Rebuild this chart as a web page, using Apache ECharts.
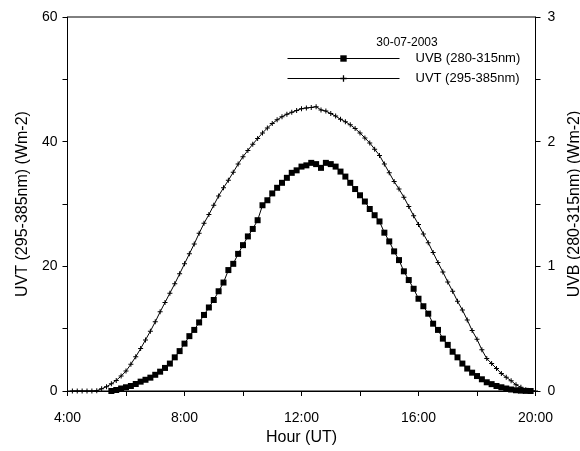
<!DOCTYPE html>
<html>
<head>
<meta charset="utf-8">
<script src="https://cdn.jsdelivr.net/npm/echarts@6/dist/echarts.min.js"></script>
<style>html,body{margin:0;padding:0;background:#fff;}#c{width:580px;height:451px;}</style>
</head>
<body>
<div id="c"></div>
<script>
var hours = [
 '4:00','4:10','4:20','4:30','4:40','4:50',
 '5:00','5:10','5:20','5:30','5:40','5:50',
 '6:00','6:10','6:20','6:30','6:40','6:50',
 '7:00','7:10','7:20','7:30','7:40','7:50',
 '8:00','8:10','8:20','8:30','8:40','8:50',
 '9:00','9:10','9:20','9:30','9:40','9:50',
 '10:00','10:10','10:20','10:30','10:40','10:50',
 '11:00','11:10','11:20','11:30','11:40','11:50',
 '12:00','12:10','12:20','12:30','12:40','12:50',
 '13:00','13:10','13:20','13:30','13:40','13:50',
 '14:00','14:10','14:20','14:30','14:40','14:50',
 '15:00','15:10','15:20','15:30','15:40','15:50',
 '16:00','16:10','16:20','16:30','16:40','16:50',
 '17:00','17:10','17:20','17:30','17:40','17:50',
 '18:00','18:10','18:20','18:30','18:40','18:50',
 '19:00','19:10','19:20','19:30','19:40','19:50',
 '20:00'
];
var uvt = [
 null,0,0,0,0,0,
 0.05,0.35,0.7,1.15,1.7,2.4,
 3.2,4.3,5.5,6.8,8.2,9.6,
 11.1,12.7,14.2,15.7,17.2,18.8,
 20.4,22.0,23.6,25.3,26.9,28.3,
 29.8,31.3,32.6,33.8,35.1,36.4,
 37.6,38.6,39.6,40.5,41.4,42.2,
 42.9,43.5,44.0,44.4,44.7,45.0,
 45.3,45.4,45.5,45.6,45.1,44.9,
 44.5,44.1,43.6,43.2,42.7,42.1,
 41.4,40.6,39.8,38.8,37.8,36.4,
 35.0,33.6,32.4,31.1,29.6,28.1,
 26.7,25.2,23.8,22.2,20.6,19.1,
 17.5,16.0,14.4,13.0,11.4,9.7,
 8.3,6.6,5.2,4.4,3.6,2.8,
 2.2,1.65,1.0,0.6,0.2,0,
 0
];
var uvb = [
 null,null,null,null,null,null,
 null,null,null,0,0.008,0.02,
 0.03,0.04,0.056,0.075,0.09,0.107,
 0.13,0.155,0.185,0.22,0.27,0.32,
 0.38,0.44,0.49,0.55,0.61,0.67,
 0.73,0.80,0.87,0.97,1.02,1.10,
 1.17,1.24,1.30,1.37,1.49,1.53,
 1.585,1.63,1.67,1.71,1.75,1.77,
 1.80,1.81,1.83,1.82,1.79,1.83,
 1.82,1.80,1.76,1.72,1.67,1.62,
 1.57,1.52,1.46,1.41,1.36,1.27,
 1.20,1.12,1.05,0.96,0.89,0.82,
 0.74,0.68,0.62,0.54,0.49,0.42,
 0.37,0.315,0.27,0.22,0.18,0.147,
 0.12,0.094,0.07,0.055,0.04,0.03,
 0.02,0.012,0.006,0.003,0.001,0,
 null
];
var uvtTicks = [0, 20, 40, 60];
var uvbTicks = [0, 1, 2, 3];

var FONT = '"Liberation Sans", Arial, sans-serif';
var plus = 'path://M2,0H3V2H5V3H3V5H2V3H0V2H2Z';
var chart = echarts.init(document.getElementById('c'), null, {renderer: 'canvas'});
var axisCommon = {
  axisLine: {show: true, lineStyle: {color: '#000', width: 1}},
  axisTick: {show: true, inside: false, length: 5, lineStyle: {color: '#000'}},
  minorTick: {show: true, splitNumber: 2, length: 5, lineStyle: {color: '#000'}},
  splitLine: {show: false},
  axisLabel: {color: '#000', fontSize: 14, fontFamily: FONT},
  nameLocation: 'middle',
  nameTextStyle: {color: '#000', fontSize: 16, fontFamily: FONT}
};
chart.setOption({
  animation: false,
  backgroundColor: '#fff',
  textStyle: {fontFamily: FONT},
  title: {
    text: '30-07-2003', left: 402, top: 32, textAlign: 'center',
    textStyle: {color: '#000', fontSize: 12, fontWeight: 'normal', fontFamily: FONT}
  },
  legend: {
    orient: 'vertical', left: 282, top: 47, itemWidth: 112, itemHeight: 8, itemGap: 7,
    data: ['UVB (280-315nm)', 'UVT (295-385nm)'],
    lineStyle: {width: 1},
    textStyle: {color: '#000', fontSize: 13, fontFamily: FONT, padding: [0, 0, 0, 11]}
  },
  grid: {left: 67.5, right: 44.5, top: 17, bottom: 60, show: true, borderColor: '#000', borderWidth: 1, outerBoundsMode: 'none', containLabel: false},
  xAxis: {
    type: 'category', data: hours, boundaryGap: false,
    name: 'Hour (UT)', nameGap: 37, nameLocation: 'middle',
    nameTextStyle: {color: '#000', fontSize: 16, fontFamily: FONT},
    axisLine: {show: true, lineStyle: {color: '#000', width: 1}},
    axisTick: {show: true, inside: false, length: 5, interval: 11, lineStyle: {color: '#000'}},
    axisLabel: {color: '#000', fontSize: 14, fontFamily: FONT, margin: 20, interval: 23},
    splitLine: {show: false}
  },
  yAxis: [
    Object.assign({}, axisCommon, {
      type: 'value', position: 'left', min: uvtTicks[0], max: uvtTicks[uvtTicks.length - 1], interval: 20,
      name: 'UVT (295-385nm) (Wm-2)', nameGap: 37,
      axisLabel: Object.assign({}, axisCommon.axisLabel, {margin: 10})
    }),
    Object.assign({}, axisCommon, {
      type: 'value', position: 'right', min: uvbTicks[0], max: uvbTicks[uvbTicks.length - 1], interval: 1,
      name: 'UVB (280-315nm) (Wm-2)', nameGap: 30, nameRotate: 90,
      axisLabel: Object.assign({}, axisCommon.axisLabel, {margin: 12})
    })
  ],
  series: [
    {
      name: 'UVB (280-315nm)', type: 'line', yAxisIndex: 1, data: uvb,
      symbol: 'rect', symbolSize: 6, showAllSymbol: true, connectNulls: false,
      lineStyle: {color: '#000', width: 1}, itemStyle: {color: '#000'}
    },
    {
      name: 'UVT (295-385nm)', type: 'line', yAxisIndex: 0, data: uvt,
      symbol: plus, symbolSize: 5, showAllSymbol: true,
      lineStyle: {color: '#000', width: 1}, itemStyle: {color: '#000'}
    }
  ]
});
</script>
</body>
</html>
